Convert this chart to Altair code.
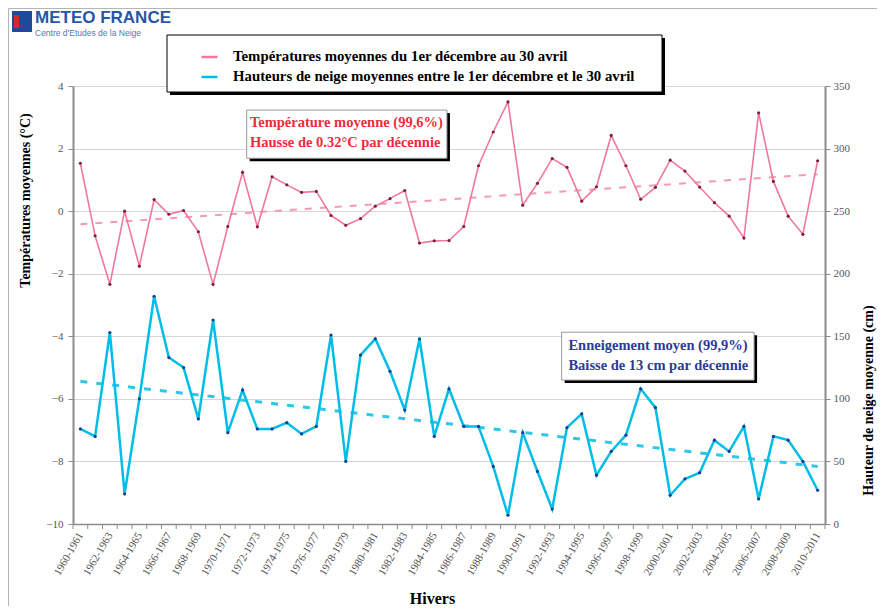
import altair as alt
import pandas as pd

# ---------------- data ----------------
winters = ["1960-1961", "1961-1962", "1962-1963", "1963-1964", "1964-1965", "1965-1966",
           "1966-1967", "1967-1968", "1968-1969", "1969-1970", "1970-1971", "1971-1972",
           "1972-1973", "1973-1974", "1974-1975", "1975-1976", "1976-1977", "1977-1978",
           "1978-1979", "1979-1980", "1980-1981", "1981-1982", "1982-1983", "1983-1984",
           "1984-1985", "1985-1986", "1986-1987", "1987-1988", "1988-1989", "1989-1990",
           "1990-1991", "1991-1992", "1992-1993", "1993-1994", "1994-1995", "1995-1996",
           "1996-1997", "1997-1998", "1998-1999", "1999-2000", "2000-2001", "2001-2002",
           "2002-2003", "2003-2004", "2004-2005", "2005-2006", "2006-2007", "2007-2008",
           "2008-2009", "2009-2010", "2010-2011"]

temperature = [1.53, -0.79, -2.34, 0.00, -1.76, 0.37, -0.10, 0.02, -0.66, -2.34,
               -0.49, 1.24, -0.50, 1.10, 0.84, 0.60, 0.63, -0.14, -0.45, -0.24,
               0.16, 0.40, 0.66, -1.02, -0.95, -0.94, -0.49, 1.45, 2.53, 3.49,
               0.19, 0.89, 1.68, 1.40, 0.32, 0.78, 2.42, 1.45, 0.38, 0.76,
               1.63, 1.28, 0.77, 0.27, -0.16, -0.86, 3.14, 0.95, -0.16, -0.74, 1.61]

neige = [76, 70, 153, 24, 100, 182, 133, 125, 84, 163,
         73, 107, 76, 76, 81, 72, 78, 151, 50, 135,
         148, 122, 91, 148, 70, 108, 78, 78, 46, 7,
         73, 42, 12, 77, 88, 39, 58, 71, 108, 93,
         23, 36, 41, 67, 58, 78, 20, 70, 67, 50, 27]

trend_idx = [0, 50]
trend_temp = [-0.42, 1.18]
trend_neige = [114, 46]

LEG_T = "Températures moyennes du 1er décembre au 30 avril"
LEG_S = "Hauteurs de neige moyennes entre le 1er décembre et le 30 avril"
ANNOT_T = ["Température moyenne (99,6%)", "Hausse de 0.32°C par décennie"]
ANNOT_S = ["Enneigement moyen (99,9%)", "Baisse de 13 cm par décennie"]

# ---------------- styles ----------------
W, H = 752, 438
SERIF = "Liberation Serif"
SANS = "Liberation Sans"
PINK = "#f0799b"
CYAN = "#00bde8"
RED_TXT = "#ec2c3c"
NAVY_TXT = "#2e3a94"
AXIS_GRAY = "#8c8c8c"
LABEL_GRAY = "#555555"

idx = list(range(len(winters)))
df_t = pd.DataFrame({"idx": idx, "hiver": winters, "temp": temperature, "serie": LEG_T})
df_s = pd.DataFrame({"idx": idx, "hiver": winters, "neige": neige, "serie": LEG_S})
df_tt = pd.DataFrame({"idx": trend_idx, "temp": trend_temp})
df_ts = pd.DataFrame({"idx": trend_idx, "neige": trend_neige})
df_ticks = pd.DataFrame({"b": [i - 0.5 for i in range(len(winters) + 1)]})
one = pd.DataFrame({"a": [0]})

# annotation boxes (in data coordinates of the left axis)
box_t = pd.DataFrame({"x1": [11.28], "x2": [24.86], "y1": [3.23], "y2": [1.69]})
box_s = pd.DataFrame({"x1": [32.64], "x2": [45.69], "y1": [-3.87], "y2": [-5.40]})
txt_t = pd.DataFrame({"tx": [11.5, 11.5], "ty": [2.81, 2.17], "label": ANNOT_T})
txt_s = pd.DataFrame({"tx": [33.1, 33.1], "ty": [-4.31, -4.95], "label": ANNOT_S})

label_expr = "[" + ",".join("'%s'" % w for w in winters) + "][datum.value]"

x_scale = alt.Scale(domain=[-0.5, len(winters) - 0.5], nice=False, zero=False)
x_axis = alt.Axis(values=list(range(0, len(winters), 2)), labelExpr=label_expr,
                  labelAngle=300, labelAlign="right", labelBaseline="middle",
                  labelFont=SERIF, labelFontSize=11, labelColor=LABEL_GRAY, labelPadding=9,
                  labelFlush=False, labelOverlap=False, labelBound=False,
                  ticks=False, grid=False, domainColor=AXIS_GRAY, domainWidth=1.5,
                  title="Hivers", titleFont=SERIF, titleFontSize=16, titleFontWeight="bold",
                  titleColor="black", titleX=359, titleY=74, titleAlign="center",
                  titleBaseline="middle")

yt_scale = alt.Scale(domain=[-10, 4], nice=False, zero=False)
yt_axis = alt.Axis(values=list(range(-10, 5, 2)), grid=True, gridColor="#d6d6d6", gridWidth=1,
                   domainColor=AXIS_GRAY, domainWidth=2, tickColor=AXIS_GRAY, tickSize=5,
                   labelFont=SERIF, labelFontSize=11, labelColor=LABEL_GRAY, labelPadding=5,
                   title="Températures moyennes (°C)", titleFont=SERIF, titleFontSize=14,
                   titleFontWeight="bold", titleColor="black", titleAngle=270,
                   titleX=-48, titleY=114, titleAlign="center", titleBaseline="middle")

ys_scale = alt.Scale(domain=[0, 350], nice=False, zero=False)
ys_axis = alt.Axis(orient="right", values=list(range(0, 351, 50)), grid=False,
                   domainColor=AXIS_GRAY, domainWidth=2, tickColor=AXIS_GRAY, tickSize=5,
                   labelFont=SERIF, labelFontSize=11, labelColor=LABEL_GRAY, labelPadding=3,
                   title="Hauteur de neige moyenne (cm)", titleFont=SERIF, titleFontSize=14,
                   titleFontWeight="bold", titleColor="black", titleAngle=270,
                   titleX=43, titleY=314, titleAlign="center", titleBaseline="middle")

legend = alt.Legend(orient="none", legendX=127, legendY=-38.5, title=None, direction="vertical",
                    padding=0, rowPadding=3, symbolType="stroke", symbolSize=256,
                    symbolStrokeWidth=2.5, symbolOffset=0, labelOffset=14,
                    labelFont=SERIF, labelFontSize=14.8, labelFontWeight="bold",
                    labelColor="black", labelLimit=1000)
color_scale = alt.Scale(domain=[LEG_T, LEG_S], range=[PINK, CYAN])

X = alt.X("idx:Q", scale=x_scale, axis=x_axis)
YT = alt.Y("temp:Q", scale=yt_scale, axis=yt_axis)
YS = alt.Y("neige:Q", scale=ys_scale, axis=ys_axis)

# ---------------- decorations ----------------
frame_left = alt.Chart(one).mark_rule(color="#b4b4b4", strokeWidth=1).encode(
    x=alt.value(-64.5), y=alt.value(-77.5), y2=alt.value(520))
frame_top = alt.Chart(one).mark_rule(color="#b4b4b4", strokeWidth=1).encode(
    x=alt.value(-64.5), x2=alt.value(804), y=alt.value(-77.5))
logo_box = alt.Chart(one).mark_rect(color="#1f4a9a").encode(
    x=alt.value(-61), x2=alt.value(-41), y=alt.value(-75), y2=alt.value(-54))
logo_red = alt.Chart(one).mark_rect(color="#d8262e").encode(
    x=alt.value(-59), x2=alt.value(-54), y=alt.value(-71), y2=alt.value(-58))
logo_t1 = alt.Chart(one).mark_text(text="METEO FRANCE", font=SANS, fontSize=17,
                                   fontWeight="bold", color="#2756a6", align="left",
                                   baseline="middle").encode(x=alt.value(-38), y=alt.value(-68))
logo_t2 = alt.Chart(one).mark_text(text="Centre d'Etudes de la Neige", font=SANS, fontSize=8.5,
                                   color="#5b74ad", align="left",
                                   baseline="middle").encode(x=alt.value(-38), y=alt.value(-53.5))
legend_shadow = alt.Chart(one).mark_rect(color="black").encode(
    x=alt.value(97), x2=alt.value(592), y=alt.value(-48), y2=alt.value(9))
legend_box = alt.Chart(one).mark_rect(fill="white", stroke="black", strokeWidth=1).encode(
    x=alt.value(94), x2=alt.value(589), y=alt.value(-51), y2=alt.value(6))

# x ticks between categories
xticks = alt.Chart(df_ticks).mark_rule(color=AXIS_GRAY, strokeWidth=1).encode(
    x=alt.X("b:Q", scale=x_scale, axis=x_axis), y=alt.value(H), y2=alt.value(H + 5))

# ---------------- temperature group ----------------
t_line = alt.Chart(df_t).mark_line(strokeWidth=1.6).encode(
    x=X, y=YT, color=alt.Color("serie:N", scale=color_scale, legend=legend))
t_pts = alt.Chart(df_t).mark_circle(size=10, color="#7a2040", opacity=1).encode(x=X, y=YT)
t_trend = alt.Chart(df_tt).mark_line(color="#f59ab2", strokeWidth=2, strokeDash=[7, 8]).encode(
    x=X, y=YT)


def box_layers(box, txt, col):
    shadow = alt.Chart(box).mark_rect(color="black", xOffset=3, x2Offset=3,
                                      yOffset=3, y2Offset=3).encode(
        x=alt.X("x1:Q", scale=x_scale, axis=x_axis), x2="x2:Q",
        y=alt.Y("y1:Q", scale=yt_scale, axis=yt_axis), y2="y2:Q")
    rect = alt.Chart(box).mark_rect(fill="white", stroke="#999999", strokeWidth=1).encode(
        x=alt.X("x1:Q", scale=x_scale, axis=x_axis), x2="x2:Q",
        y=alt.Y("y1:Q", scale=yt_scale, axis=yt_axis), y2="y2:Q")
    text = alt.Chart(txt).mark_text(align="left", baseline="middle", font=SERIF,
                                    fontSize=14.5, fontWeight="bold", color=col).encode(
        x=alt.X("tx:Q", scale=x_scale, axis=x_axis),
        y=alt.Y("ty:Q", scale=yt_scale, axis=yt_axis), text="label:N")
    return [shadow, rect, text]


left = alt.layer(frame_left, frame_top, logo_box, logo_red, logo_t1, logo_t2,
                 legend_shadow, legend_box,
                 xticks, t_trend, t_line, t_pts,
                 *box_layers(box_t, txt_t, RED_TXT), *box_layers(box_s, txt_s, NAVY_TXT))

# ---------------- snow group ----------------
s_trend = alt.Chart(df_ts).mark_line(color="#2fc6ea", strokeWidth=3, strokeDash=[7, 9]).encode(
    x=X, y=YS)
s_line = alt.Chart(df_s).mark_line(strokeWidth=2.5).encode(
    x=X, y=YS, color=alt.Color("serie:N", scale=color_scale, legend=legend))
s_pts = alt.Chart(df_s).mark_circle(size=10, color="#1d3c8f", opacity=1).encode(x=X, y=YS)

right = alt.layer(s_trend, s_line, s_pts)

chart = alt.layer(left, right).resolve_scale(y="independent").properties(
    width=W, height=H, padding=0, background="white"
).configure_view(strokeWidth=0)

chart.save("out.html", embed_options={"renderer": "svg", "actions": False})
